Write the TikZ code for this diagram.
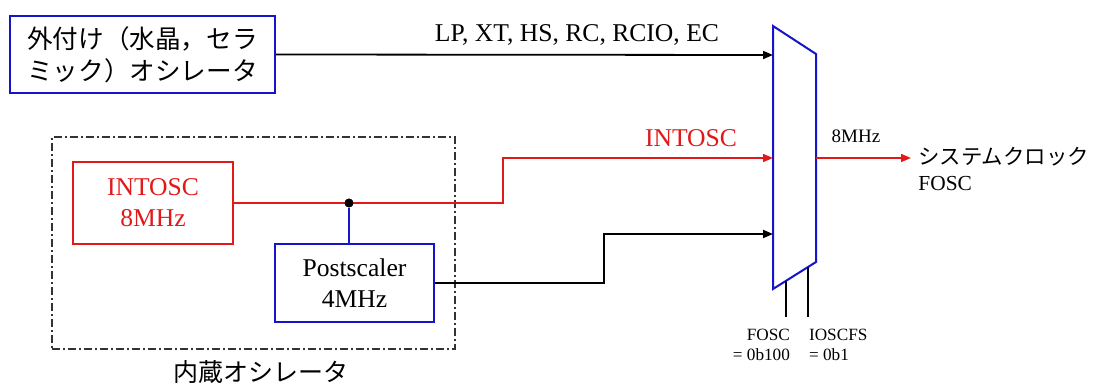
\documentclass[tikz,border=0pt]{standalone}
\usepackage{fontspec}
\setmainfont{Liberation Serif}
\newfontfamily\jp{Noto Sans CJK JP}
\usetikzlibrary{arrows.meta}
\definecolor{myblue}{RGB}{20,20,200}
\definecolor{myred}{RGB}{225,25,25}
\begin{document}
\begin{tikzpicture}[x=0.5pt,y=-0.5pt,
  mainfont/.style={font={\fontsize{12.8}{15.5}\selectfont}},
  bluebox/.style={draw=myblue, line width=1pt, inner sep=0pt, align=center, mainfont},
  redbox/.style={draw=myred, text=myred, line width=1pt, inner sep=0pt, align=center, mainfont},
  wire/.style={draw=black, line width=0.9pt},
  redwire/.style={draw=myred, line width=0.7pt},
  tip/.style={-{Triangle[length=5pt,width=4pt]}},
  small/.style={font={\fontsize{8.6}{10}\selectfont}},
]
\useasboundingbox (0,0) rectangle (1097,385);

% external oscillator
\node[bluebox, minimum width=132.5pt, minimum height=38.5pt,
      font={\jp\fontsize{12.8}{16}\selectfont}] (ext) at (142.5,54.5)
      {外付け（水晶，セラ\\ミック）オシレータ};

% internal oscillator group
\node[draw=black!80, line width=0.6pt, dash pattern=on 4pt off 1.5pt on 1pt off 1.5pt,
      minimum width=201.5pt, minimum height=106pt, inner sep=0pt] (intbox) at (253.5,243) {};
\node[font={\jp\fontsize{12.5}{15}\selectfont}] (intlbl) at (261,372) {内蔵オシレータ};

\node[redbox, minimum width=80pt, minimum height=41pt] (intosc) at (153,203) {INTOSC\\8MHz};
\node[bluebox, minimum width=79.5pt, minimum height=39pt] (post) at (354.5,283) {Postscaler\\4MHz};
\node[circle, fill=black, inner sep=0pt, minimum size=4.4pt] (dot) at (349,203) {};

% multiplexer
\coordinate (mTL) at (773,26);
\coordinate (mTR) at (816,54);
\coordinate (mBR) at (816,262);
\coordinate (mBL) at (773,289);
\draw[myblue, line width=1pt, fill=white] (mTL) -- (mTR) -- (mBR) -- (mBL) -- cycle;
\coordinate (in1) at (773,55);
\coordinate (in2) at (773,158);
\coordinate (in3) at (773,234);
\coordinate (out) at (816,158);
\coordinate (c1top) at (786,281);
\coordinate (c1bot) at (786,317);
\coordinate (c2top) at (808,267);
\coordinate (c2bot) at (808,317);
\coordinate (bend) at (503,203);

% labels
\node[mainfont] (lbl1) at (577,35) {LP, XT, HS, RC, RCIO, EC};
\node[mainfont, text=myred] (lbl2) at (691,138) {INTOSC};
\node[font={\fontsize{9.5}{11}\selectfont}] (lbl3) at (856,136) {8MHz};
\node[anchor=north west, align=left, inner xsep=3.5pt, inner ysep=3pt,
      font={\fontsize{10.7}{13}\selectfont}] (sys) at (911,141)
      {{\jp システムクロック}\\FOSC};
\node[small, anchor=north east, align=right] (fl) at (797,322) {FOSC\\= 0b100};
\node[small, anchor=north west, align=left] (il) at (802,322) {IOSCFS\\= 0b1};

% wires
\draw[wire, tip] (ext.east) -- (in1);
\draw[redwire, tip] (intosc.east) -- (dot.center) -- (bend) |- (in2);
\draw[myblue, line width=0.8pt] (dot) -- (dot |- post.north);
\node[circle, fill=black, inner sep=0pt, minimum size=4.4pt] at (dot) {};
\draw[wire, tip] (post.east) -- (604,283) |- (in3);
\draw[redwire, tip] (out) -- (sys.west |- out);
\draw[wire] (c1top) -- (c1bot);
\draw[wire] (c2top) -- (c2bot);
\end{tikzpicture}
\end{document}
